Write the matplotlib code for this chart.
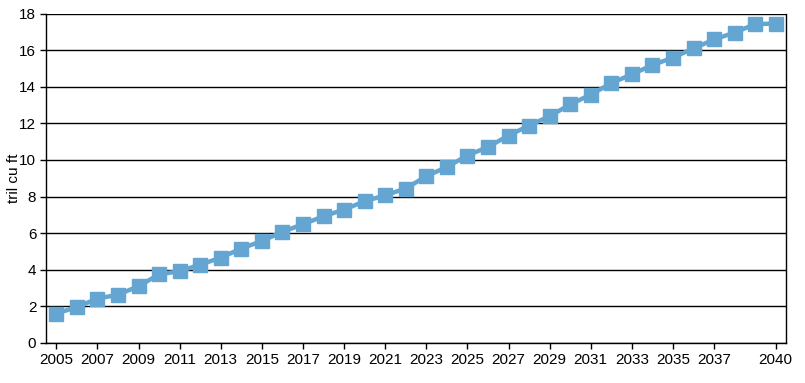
import numpy as np
import matplotlib.pyplot as plt

# annual values
years = list(range(2005, 2041))
values = [1.60, 1.97, 2.42, 2.64, 3.10, 3.75, 3.92, 4.28, 4.66, 5.16,
          5.57, 6.07, 6.49, 6.92, 7.29, 7.74, 8.07, 8.44, 9.11, 9.62,
          10.24, 10.71, 11.33, 11.88, 12.39, 13.03, 13.57, 14.19, 14.68, 15.18,
          15.59, 16.09, 16.58, 16.96, 17.42, 17.45]
tick_years = list(range(2005, 2038, 2)) + [2040]
y_ticks = list(range(0, 19, 2))

plt.rcParams['font.family'] = ['Liberation Sans', 'DejaVu Sans']

fig = plt.figure(figsize=(8.05, 3.83), dpi=100)
ax = fig.add_axes([46/805, 1-343/383, 740/805, 329.5/383])

x = np.arange(len(years))
ax.plot(x, values, color='#64a6d1', lw=3.2, marker='s', ms=9.5, mec='#64a6d1', zorder=3)

ax.set_xlim(-0.5, len(years) - 0.5)
ax.set_ylim(0, 18)
ax.set_yticks(y_ticks)
ax.yaxis.grid(True, color='k', lw=1)
ax.set_axisbelow(True)
ax.set_xticks([years.index(t) for t in tick_years])
ax.set_xticklabels([str(t) for t in tick_years])
ax.tick_params(axis='both', labelsize=11, length=4, width=1, color='k', pad=3)
for s in ['left', 'right', 'bottom']:
    ax.spines[s].set_linewidth(1)
ax.spines['top'].set_visible(False)
ax.set_ylabel('tril cu ft', fontsize=11)
ax.yaxis.set_label_coords(-0.034, 0.5)

fig.savefig('out.png', dpi=100)
